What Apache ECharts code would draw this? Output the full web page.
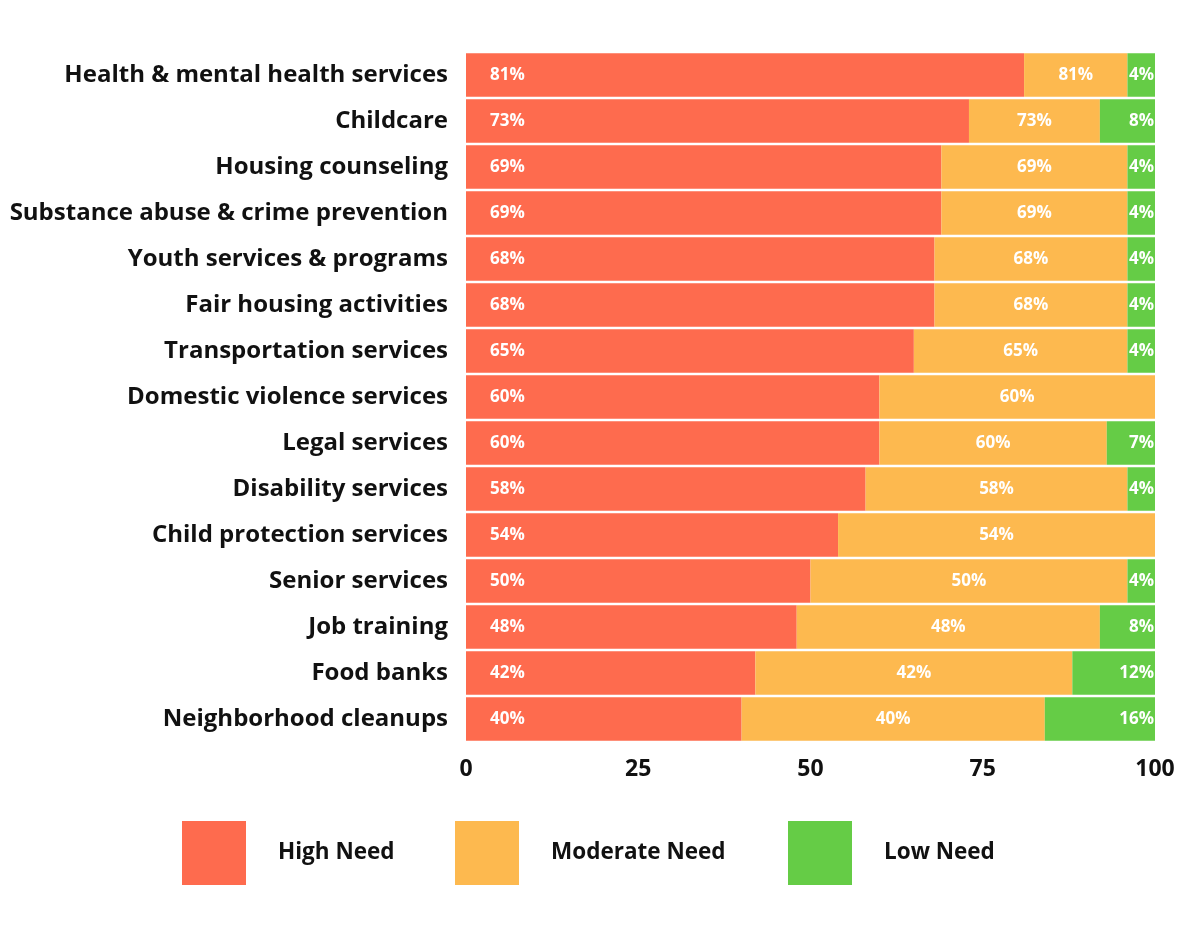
<!DOCTYPE html>
<html>
<head>
<meta charset="utf-8">
<script src="https://cdn.jsdelivr.net/npm/echarts@6/dist/echarts.min.js"></script>
<style>
  html, body { margin: 0; padding: 0; background: #ffffff; }
  #chart { width: 1190px; height: 943px; }
</style>
</head>
<body>
<div id="chart"></div>
<script>
// categories, top to bottom
const categories = [
  "Health & mental health services",
  "Childcare",
  "Housing counseling",
  "Substance abuse & crime prevention",
  "Youth services & programs",
  "Fair housing activities",
  "Transportation services",
  "Domestic violence services",
  "Legal services",
  "Disability services",
  "Child protection services",
  "Senior services",
  "Job training",
  "Food banks",
  "Neighborhood cleanups"
];
const highNeed = [81, 73, 69, 69, 68, 68, 65, 60, 60, 58, 54, 50, 48, 42, 40];
const moderateNeed = [15, 19, 27, 27, 28, 28, 31, 40, 33, 38, 46, 46, 44, 46, 44];
const lowNeed = [4, 8, 4, 4, 4, 4, 4, 0, 7, 4, 0, 4, 8, 12, 16];
// the source chart prints these numbers on the moderate segments
const moderateLabels = [81, 73, 69, 69, 68, 68, 65, 60, 60, 58, 54, 50, 48, 42, 40];
const xTicks = [0, 25, 50, 75, 100];

const colors = { high: "#FE6B4E", moderate: "#FDB94F", low: "#65CC46" };
const font = "'Open Sans', sans-serif";

const chart = echarts.init(document.getElementById("chart"));

const barLabel = {
  show: true,
  color: "#ffffff",
  fontFamily: font,
  fontWeight: 700,
  fontSize: 17
};

const legendBase = (name, left) => ({
  data: [name],
  left: left,
  top: 816,
  itemWidth: 64,
  itemHeight: 64,
  icon: "rect",
  selectedMode: false,
  textStyle: {
    color: "#111111",
    fontFamily: font,
    fontWeight: 700,
    fontSize: 22.5,
    padding: [0, 0, 0, 27]
  }
});

chart.setOption({
  animation: false,
  backgroundColor: "#ffffff",
  legend: [
    legendBase("High Need", 177),
    legendBase("Moderate Need", 450),
    legendBase("Low Need", 783)
  ],
  grid: { left: 466, right: 35, top: 52, bottom: 201 },
  xAxis: {
    type: "value",
    min: 0,
    max: 100,
    interval: 25,
    axisLine: { show: false },
    axisTick: { show: false },
    splitLine: { show: false },
    axisLabel: {
      color: "#111111",
      fontFamily: font,
      fontWeight: 700,
      fontSize: 23,
      margin: 16,
      formatter: (v) => (xTicks.includes(v) ? String(v) : "")
    }
  },
  yAxis: {
    type: "category",
    data: categories,
    inverse: true,
    axisLine: { show: false },
    axisTick: { show: false },
    axisLabel: {
      color: "#111111",
      fontFamily: font,
      fontWeight: 700,
      fontSize: 24,
      margin: 18,
      padding: [4, 0, 0, 0]
    }
  },
  series: [
    {
      name: "High Need",
      type: "bar",
      stack: "total",
      barCategoryGap: "5%",
      data: highNeed,
      itemStyle: { color: colors.high },
      label: {
        ...barLabel,
        position: "insideLeft",
        distance: 24,
        formatter: (p) => p.value + "%"
      }
    },
    {
      name: "Moderate Need",
      type: "bar",
      stack: "total",
      data: moderateNeed,
      itemStyle: { color: colors.moderate },
      label: {
        ...barLabel,
        position: "inside",
        formatter: (p) => moderateLabels[p.dataIndex] + "%"
      }
    },
    {
      name: "Low Need",
      type: "bar",
      stack: "total",
      data: lowNeed,
      itemStyle: { color: colors.low },
      label: {
        ...barLabel,
        position: "insideRight",
        distance: 1,
        formatter: (p) => (p.value > 0 ? p.value + "%" : "")
      }
    }
  ]
});
</script>
</body>
</html>
